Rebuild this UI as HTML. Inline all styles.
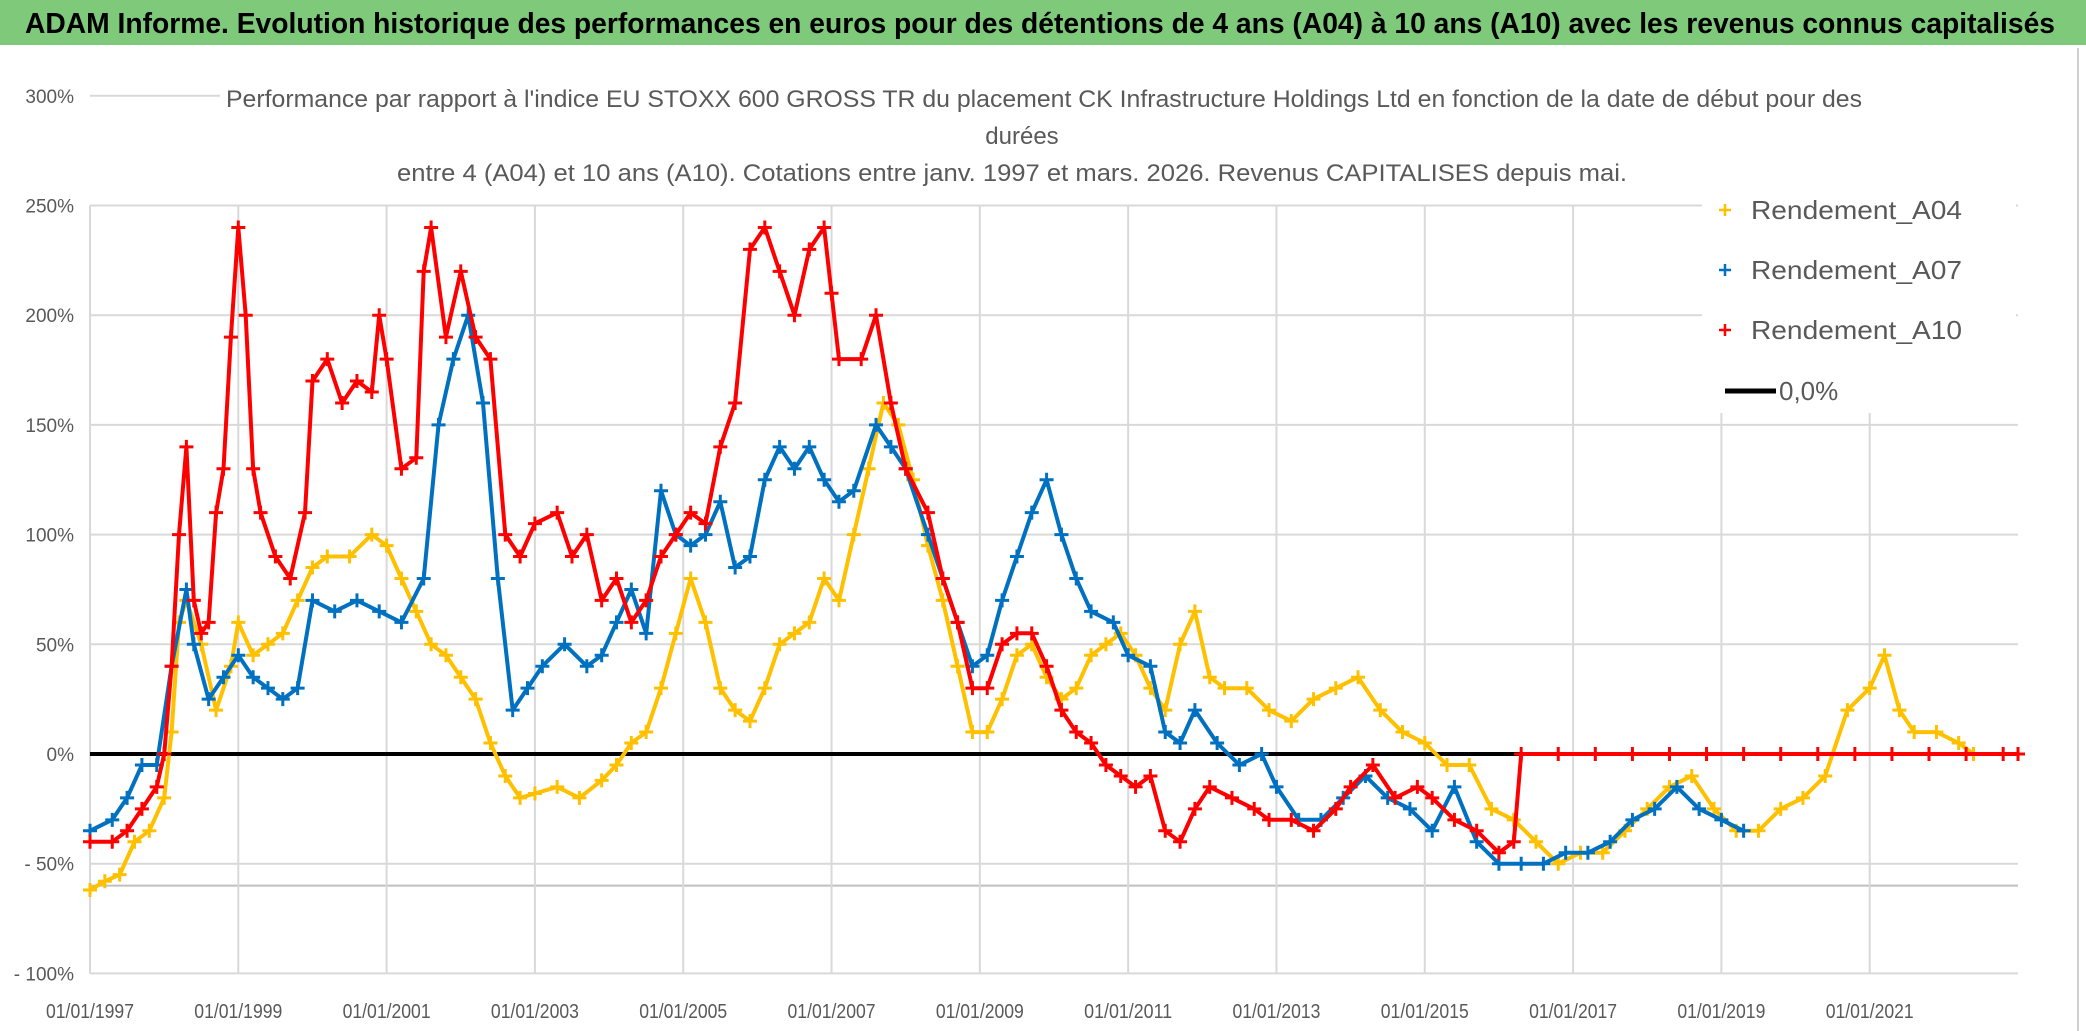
<!DOCTYPE html>
<html><head><meta charset="utf-8"><style>
html,body{margin:0;padding:0;background:#fff;}
svg{display:block;font-family:"Liberation Sans",sans-serif;}
</style></head><body>
<svg id="chart" width="2086" height="1031" viewBox="0 0 2086 1031" xmlns="http://www.w3.org/2000/svg">
<rect x="0" y="0" width="2086" height="1031" fill="#fff"/>
<rect x="0" y="0" width="2086" height="45" fill="#7ec97a"/>
<text x="1040" y="33" text-anchor="middle" font-size="29" font-weight="bold" fill="#000" textLength="2030" lengthAdjust="spacingAndGlyphs">ADAM Informe. Evolution historique des performances en euros pour des détentions de 4 ans (A04) à 10 ans (A10) avec les revenus connus capitalisés</text>
<line x1="2078" y1="48" x2="2078" y2="1031" stroke="#d0d0d0" stroke-width="2"/>
<g id="grid"></g>
<g id="axes"></g>
<g id="series"></g>
<g fill="#595959" font-size="24" text-anchor="middle">
<rect x="220" y="78" width="1650" height="108" fill="#fff"/>
<text x="1044" y="107" textLength="1636" lengthAdjust="spacingAndGlyphs">Performance par rapport à l'indice EU STOXX 600 GROSS TR  du placement CK Infrastructure Holdings Ltd en fonction de la date de début pour des</text>
<text x="1022" y="144">durées</text>
<text x="1012" y="181" textLength="1230" lengthAdjust="spacingAndGlyphs">entre 4 (A04) et 10 ans (A10). Cotations entre janv. 1997 et mars. 2026. Revenus CAPITALISES depuis mai.</text>
</g>
<g>
<rect x="1702" y="188" width="314" height="225" fill="#fff"/>
<g><path d="M1719 210h12M1725 204v12" stroke="#ffc000" stroke-width="2.5"/><text x="1751" y="219" font-size="26" fill="#595959" textLength="211" lengthAdjust="spacingAndGlyphs">Rendement_A04</text></g>
<g><path d="M1719 270h12M1725 264v12" stroke="#0070c0" stroke-width="2.5"/><text x="1751" y="279" font-size="26" fill="#595959" textLength="211" lengthAdjust="spacingAndGlyphs">Rendement_A07</text></g>
<g><path d="M1719 330h12M1725 324v12" stroke="#ff0000" stroke-width="2.5"/><text x="1751" y="339" font-size="26" fill="#595959" textLength="211" lengthAdjust="spacingAndGlyphs">Rendement_A10</text></g>
<g><line x1="1725" y1="391" x2="1776" y2="391" stroke="#000" stroke-width="5"/><text x="1779" y="400" font-size="26" fill="#595959">0,0%</text></g>
</g>
</svg>
<script>
const yTicks=[300,250,200,150,100,50,0,-50,-100];
const yTickLabels=["300%","250%","200%","150%","100%","50%","0%","- 50%","- 100%"];
const xTicks=[1997,1999,2001,2003,2005,2007,2009,2011,2013,2015,2017,2019,2021];
const xTickLabels=["01/01/1997","01/01/1999","01/01/2001","01/01/2003","01/01/2005","01/01/2007","01/01/2009","01/01/2011","01/01/2013","01/01/2015","01/01/2017","01/01/2019","01/01/2021"];
const dA10=[1997.0,1997.3,1997.5,1997.7,1997.9,1998.0,1998.1,1998.2,1998.3,1998.4,1998.5,1998.6,1998.7,1998.8,1998.9,1999.0,1999.1,1999.2,1999.3,1999.5,1999.7,1999.9,2000.0,2000.2,2000.4,2000.6,2000.8,2000.9,2001.0,2001.2,2001.4,2001.5,2001.6,2001.8,2002.0,2002.2,2002.4,2002.6,2002.8,2003.0,2003.3,2003.5,2003.7,2003.9,2004.1,2004.3,2004.5,2004.7,2004.9,2005.1,2005.3,2005.5,2005.7,2005.9,2006.1,2006.3,2006.5,2006.7,2006.9,2007.0,2007.1,2007.4,2007.6,2007.8,2008.0,2008.3,2008.5,2008.7,2008.9,2009.1,2009.3,2009.5,2009.7,2009.9,2010.1,2010.3,2010.5,2010.7,2010.9,2011.1,2011.3,2011.5,2011.7,2011.9,2012.1,2012.4,2012.7,2012.9,2013.2,2013.5,2013.8,2014.0,2014.3,2014.6,2014.9,2015.1,2015.4,2015.7,2016.0,2016.2,2016.3,2016.8,2017.3,2017.8,2018.3,2018.8,2019.3,2019.8,2020.3,2020.8,2021.3,2021.8,2022.3,2022.8,2023.0];
const vA10=[-40,-40,-35,-25,-15,0,40,100,140,70,55,60,110,130,190,240,200,130,110,90,80,110,170,180,160,170,165,200,180,130,135,220,240,190,220,190,180,100,90,105,110,90,100,70,80,60,70,90,100,110,105,140,160,230,240,220,200,230,240,210,180,180,200,160,130,110,80,60,30,30,50,55,55,40,20,10,5,-5,-10,-15,-10,-35,-40,-25,-15,-20,-25,-30,-30,-35,-25,-15,-5,-20,-15,-20,-30,-35,-45,-40,0,0,0,0,0,0,0,0,0,0,0,0,0,0,0];
const dA07=[1997.0,1997.3,1997.5,1997.7,1997.9,1998.1,1998.3,1998.4,1998.6,1998.8,1999.0,1999.2,1999.4,1999.6,1999.8,2000.0,2000.3,2000.6,2000.9,2001.2,2001.5,2001.7,2001.9,2002.1,2002.3,2002.5,2002.7,2002.9,2003.1,2003.4,2003.7,2003.9,2004.1,2004.3,2004.5,2004.7,2004.9,2005.1,2005.3,2005.5,2005.7,2005.9,2006.1,2006.3,2006.5,2006.7,2006.9,2007.1,2007.3,2007.6,2007.8,2008.0,2008.3,2008.5,2008.7,2008.9,2009.1,2009.3,2009.5,2009.7,2009.9,2010.1,2010.3,2010.5,2010.8,2011.0,2011.3,2011.5,2011.7,2011.9,2012.2,2012.5,2012.8,2013.0,2013.3,2013.6,2013.9,2014.2,2014.5,2014.8,2015.1,2015.4,2015.7,2016.0,2016.3,2016.6,2016.9,2017.2,2017.5,2017.8,2018.1,2018.4,2018.7,2019.0,2019.3];
const vA07=[-35,-30,-20,-5,-5,40,75,50,25,35,45,35,30,25,30,70,65,70,65,60,80,150,180,200,160,80,20,30,40,50,40,45,60,75,55,120,100,95,100,115,85,90,125,140,130,140,125,115,120,150,140,130,100,80,60,40,45,70,90,110,125,100,80,65,60,45,40,10,5,20,5,-5,0,-15,-30,-30,-20,-10,-20,-25,-35,-15,-40,-50,-50,-50,-45,-45,-40,-30,-25,-15,-25,-30,-35];
const dA04=[1997.0,1997.2,1997.4,1997.6,1997.8,1998.0,1998.1,1998.2,1998.3,1998.5,1998.7,1998.9,1999.0,1999.2,1999.4,1999.6,1999.8,2000.0,2000.2,2000.5,2000.8,2001.0,2001.2,2001.4,2001.6,2001.8,2002.0,2002.2,2002.4,2002.6,2002.8,2003.0,2003.3,2003.6,2003.9,2004.1,2004.3,2004.5,2004.7,2004.9,2005.1,2005.3,2005.5,2005.7,2005.9,2006.1,2006.3,2006.5,2006.7,2006.9,2007.1,2007.3,2007.5,2007.7,2007.9,2008.1,2008.3,2008.5,2008.7,2008.9,2009.1,2009.3,2009.5,2009.7,2009.9,2010.1,2010.3,2010.5,2010.7,2010.9,2011.1,2011.3,2011.5,2011.7,2011.9,2012.1,2012.3,2012.6,2012.9,2013.2,2013.5,2013.8,2014.1,2014.4,2014.7,2015.0,2015.3,2015.6,2015.9,2016.2,2016.5,2016.8,2017.1,2017.4,2017.7,2018.0,2018.3,2018.6,2018.9,2019.2,2019.5,2019.8,2020.1,2020.4,2020.7,2021.0,2021.2,2021.4,2021.6,2021.9,2022.2,2022.4];
const vA04=[-62,-58,-55,-40,-35,-20,10,60,70,50,20,40,60,45,50,55,70,85,90,90,100,95,80,65,50,45,35,25,5,-10,-20,-18,-15,-20,-12,-5,5,10,30,55,80,60,30,20,15,30,50,55,60,80,70,100,130,160,150,125,95,70,40,10,10,25,45,50,35,25,30,45,50,55,45,30,20,50,65,35,30,30,20,15,25,30,35,20,10,5,-5,-5,-25,-30,-40,-50,-45,-45,-35,-25,-15,-10,-25,-35,-35,-25,-20,-10,20,30,45,20,10,10,5,0];

const NS='http://www.w3.org/2000/svg';
const X0=90,X1=2018,D0=1997,D1=2023;
function xs(d){return X0+(d-D0)*(X1-X0)/(D1-D0);}
function ys(v){return 754-v*109.7/50;}
function mk(tag,attrs,parent){const e=document.createElementNS(NS,tag);for(const k in attrs)e.setAttribute(k,attrs[k]);parent.appendChild(e);return e;}
const gridG=document.getElementById('grid'),axesG=document.getElementById('axes'),serG=document.getElementById('series');
yTicks.forEach((t,i)=>{
  if(i>0){const l=mk('line',{x1:X0,x2:X1,y1:ys(t),y2:ys(t),stroke:'#d9d9d9','stroke-width':2},gridG);
  
  }
  const tx=mk('text',{x:74,y:ys(t)+7,'text-anchor':'end','font-size':19,fill:'#595959'},axesG);
  tx.textContent=yTickLabels[i];
  
  
});
const topLine=mk('line',{x1:X0,x2:X0+220,y1:ys(300),y2:ys(300),stroke:'#d9d9d9','stroke-width':2},gridG);


const extraLine=mk('line',{x1:X0,x2:X1,y1:ys(-60),y2:ys(-60),stroke:'#bfbfbf','stroke-width':2},gridG);


xTicks.forEach((t,i)=>{
  const l=mk('line',{x1:xs(t),x2:xs(t),y1:ys(250),y2:ys(-100),stroke:'#d9d9d9','stroke-width':2},gridG);
  
  
  const tx=mk('text',{x:xs(t),y:1018,'text-anchor':'middle','font-size':20,fill:'#595959',textLength:88,lengthAdjust:'spacingAndGlyphs'},axesG);
  tx.textContent=xTickLabels[i];
  
  
});
function drawSeries(dates,vals,color,name){
  const g=mk('g',{},serG);
  
  
  const pts=dates.map((d,i)=>xs(d).toFixed(1)+','+ys(vals[i]).toFixed(1)).join(' ');
  const pl=mk('polyline',{points:pts,fill:'none',stroke:color,'stroke-width':4,'stroke-linejoin':'round'},g);
  
  
  dates.forEach((d,i)=>{
    const x=xs(d),y=ys(vals[i]);
    const p=mk('path',{d:`M${x-7} ${y}h14M${x} ${y-7}v14`,stroke:color,'stroke-width':3},g);
    
    
  });
}
const zeroLine=mk('line',{x1:X0,x2:X1,y1:ys(0),y2:ys(0),stroke:'#000','stroke-width':4},serG);


drawSeries(dA04,vA04,'#ffc000','series-a04');
drawSeries(dA07,vA07,'#0070c0','series-a07');
drawSeries(dA10,vA10,'#ff0000','series-a10');
</script>
</body></html>
